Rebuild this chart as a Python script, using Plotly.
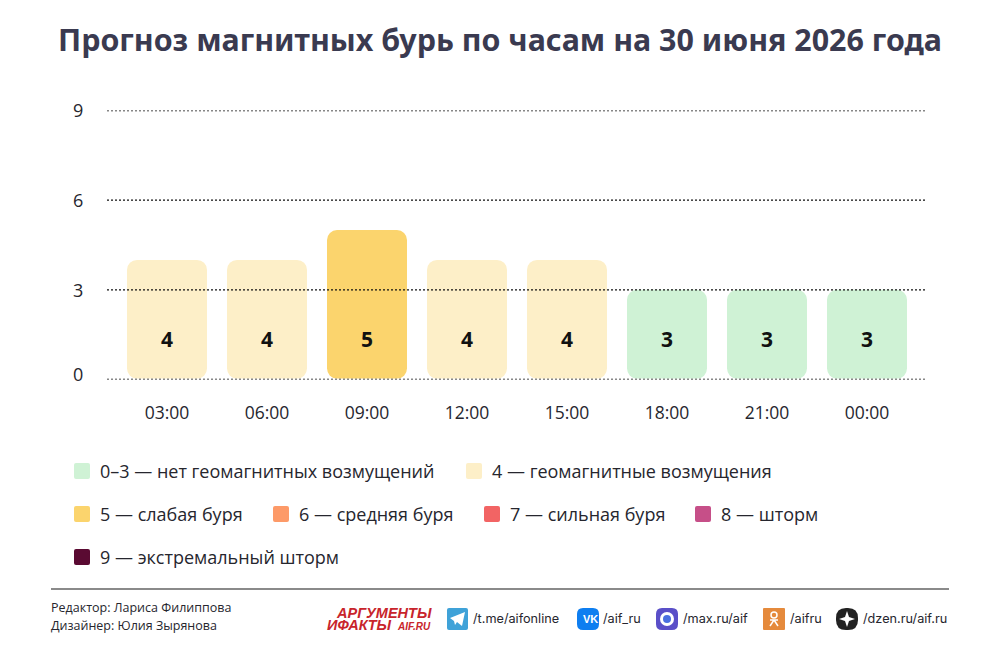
import plotly.graph_objects as go

W = 1000
H = 663

# данные
hours = ['03:00', '06:00', '09:00', '12:00', '15:00', '18:00', '21:00', '00:00']
kp_values = [4, 4, 5, 4, 4, 3, 3, 3]
y_ticks = [0, 3, 6, 9]

legend_labels = ['0–3 — нет геомагнитных возмущений', '4 — геомагнитные возмущения',
                 '5 — слабая буря', '6 — средняя буря', '7 — сильная буря', '8 — шторм',
                 '9 — экстремальный шторм']
legend_colors = ['#CFF2D5', '#FDEFC8', '#FBD46D', '#FD9A68', '#F26464', '#C64F88', '#5A0A32']
legend_pos = [(74, 471), (466, 471), (74, 514), (273, 514), (484, 514), (695, 514), (74, 557)]

bar_colors = {3: '#CFF2D5', 4: '#FDEFC8', 5: '#FBD46D'}
TEXT = '#26262E'
FONT = 'Open Sans'


# пиксели картинки -> координаты paper
def px(x):
    return x / W


def py(y):
    return 1 - y / H


def rounded(x0, y0, x1, y1, r):
    pts = [(x0 + r, y0), (x1 - r, y0), (x1, y0 + r), (x1, y1 - r),
           (x1 - r, y1), (x0 + r, y1), (x0, y1 - r), (x0, y0 + r)]
    p = [(px(a), py(b)) for a, b in pts]
    return (f'M{p[0][0]},{p[0][1]} L{p[1][0]},{p[1][1]} Q{px(x1)},{py(y0)} {p[2][0]},{p[2][1]} '
            f'L{p[3][0]},{p[3][1]} Q{px(x1)},{py(y1)} {p[4][0]},{p[4][1]} '
            f'L{p[5][0]},{p[5][1]} Q{px(x0)},{py(y1)} {p[6][0]},{p[6][1]} '
            f'L{p[7][0]},{p[7][1]} Q{px(x0)},{py(y0)} {p[0][0]},{p[0][1]} Z')


def polygon(points):
    return 'M' + ' L'.join(f'{px(a)},{py(b)}' for a, b in points) + ' Z'


def box(x0, y0, x1, y1, r, color):
    return dict(type='path', xref='paper', yref='paper', path=rounded(x0, y0, x1, y1, r),
                fillcolor=color, line_width=0)


# у аннотаций свой внутренний отступ, поэтому слева минус 2 пикселя
def text(x, y, s, size=13, color=TEXT, anchor='left', family=FONT, **font_extra):
    if anchor == 'left':
        x -= 2
    return dict(x=px(x), y=py(y), xref='paper', yref='paper', text=s, showarrow=False,
                xanchor=anchor, yanchor='middle', font=dict(family=family, size=size, color=color, **font_extra))


fig = go.Figure()

# столбцы: при заданном base скругляются все четыре угла
BOTTOM = 0.03
colors = [bar_colors[v] for v in kp_values]
fig.add_trace(go.Bar(x=hours, y=[v - BOTTOM for v in kp_values], base=BOTTOM, width=0.8,
                     marker=dict(color=colors, cornerradius=10, line_width=0), hoverinfo='skip'))
# подписи значений стоят на одной высоте
fig.add_trace(go.Scatter(x=hours, y=[1.27] * len(hours), mode='text', text=[str(v) for v in kp_values],
                         textfont=dict(family=FONT, size=21, color='#111111', weight=700),
                         hoverinfo='skip'))

shapes = []
annotations = []

# пунктирные линии поверх столбцов
for t in y_ticks:
    shapes.append(dict(type='line', xref='paper', yref='y', x0=px(107), x1=px(927), y0=t, y1=t,
                       line=dict(color='#111111', width=1.3, dash='2px,2px'), layer='above'))
    # ноль в оригинале чуть выше линии
    annotations.append(dict(x=px(78), xref='paper', y=t, yref='y', text=str(t), showarrow=False,
                            xanchor='center', yanchor='middle', yshift=6 if t == 0 else 0,
                            font=dict(family=FONT, size=18, color=TEXT)))

# легенда
for label, color, (lx, ly) in zip(legend_labels, legend_colors, legend_pos):
    shapes.append(box(lx, ly - 8, lx + 16, ly + 8, 2, color))
    annotations.append(text(lx + 26, ly, label, size=18))

# подвал
shapes.append(dict(type='line', xref='paper', yref='paper', x0=px(51), x1=px(949), y0=py(589), y1=py(589),
                   line=dict(color='#8A8A8A', width=2)))
annotations.append(text(51, 607, 'Редактор: Лариса Филиппова', size=12.5))
annotations.append(text(51, 625, 'Дизайнер: Юлия Зырянова', size=12.5))

# логотип
RED = '#C8242B'
annotations.append(text(336, 613, 'АРГУМЕНТЫ', size=14.5, color=RED, family='Liberation Sans', weight=700, style='italic'))
annotations.append(text(327, 625, 'ИФАКТЫ', size=14.5, color=RED, family='Liberation Sans', weight=700, style='italic'))
annotations.append(text(397, 626, 'AIF.RU', size=10, color=RED, family='Liberation Sans', weight=700, style='italic'))

# соцсети
shapes.append(box(447, 608, 468, 630, 2, '#3FA2D8'))
shapes.append(dict(type='path', xref='paper', yref='paper', line_width=0, fillcolor='white',
                   path=polygon([(450, 618), (465, 612), (462, 626), (457, 622), (455, 625), (454, 621)])))
shapes.append(box(577, 608, 599, 630, 6, '#0E7EF0'))
annotations.append(text(590, 619, 'VK', size=11, color='white', anchor='center', family='Liberation Sans', weight=700))
shapes.append(box(656, 608, 678, 630, 6, '#5A4FC8'))
shapes.append(dict(type='circle', xref='paper', yref='paper', x0=px(660), x1=px(674), y0=py(626), y1=py(612),
                   fillcolor='white', line_width=0))
shapes.append(dict(type='circle', xref='paper', yref='paper', x0=px(663), x1=px(671), y0=py(623), y1=py(615),
                   fillcolor='#4A6FE0', line_width=0))
shapes.append(box(763, 608, 785, 630, 1, '#E58A3C'))
shapes.append(dict(type='circle', xref='paper', yref='paper', x0=px(771), x1=px(777), y0=py(618), y1=py(612),
                   fillcolor='rgba(0,0,0,0)', line=dict(color='white', width=1.5)))
shapes.append(dict(type='path', xref='paper', yref='paper', line=dict(color='white', width=1.5),
                   path=f'M{px(770)},{py(620)} L{px(778)},{py(620)} M{px(774)},{py(620)} L{px(770)},{py(626)} '
                        f'M{px(774)},{py(620)} L{px(778)},{py(626)}'))
shapes.append(box(836, 608, 858, 630, 10, '#222222'))
shapes.append(dict(type='path', xref='paper', yref='paper', line_width=0, fillcolor='white',
                   path=polygon([(847, 611), (849, 617), (855, 619), (849, 621), (847, 627), (845, 621), (839, 619), (845, 617)])))

for x, s in [(473, '/t.me/aifonline'), (603, '/aif_ru'), (683, '/max.ru/aif'), (790, '/aifru'), (863, '/dzen.ru/aif.ru')]:
    annotations.append(text(x, 618, s, size=12.7, family='Inter'))

fig.update_layout(
    title=dict(text='Прогноз магнитных бурь по часам на 30 июня 2026 года', x=0.5, xanchor='center',
               y=py(40), yanchor='middle', font=dict(family='Noto Sans', size=30.4, color='#3A3A50', weight=700)),
    width=W, height=H, margin=dict(l=0, r=0, t=0, b=0), autosize=False,
    paper_bgcolor='white', plot_bgcolor='white', showlegend=False,
    xaxis=dict(domain=[px(107), px(927)], range=[-0.6, 7.6], type='category', categoryorder='array', categoryarray=hours,
               showgrid=False, zeroline=False, showline=False, ticks='', ticklabelstandoff=21,
               tickfont=dict(family=FONT, size=17.5, color=TEXT)),
    yaxis=dict(domain=[py(379.5), py(110.5)], range=[0, 9], showgrid=False, zeroline=False, showline=False,
               showticklabels=False, ticks=''),
    shapes=shapes, annotations=annotations,
)

# убрать отступ body, иначе всё сдвигается на 8 пикселей
fig.write_html('out.html', config={'displayModeBar': False}, post_script="document.body.style.margin='0';")
